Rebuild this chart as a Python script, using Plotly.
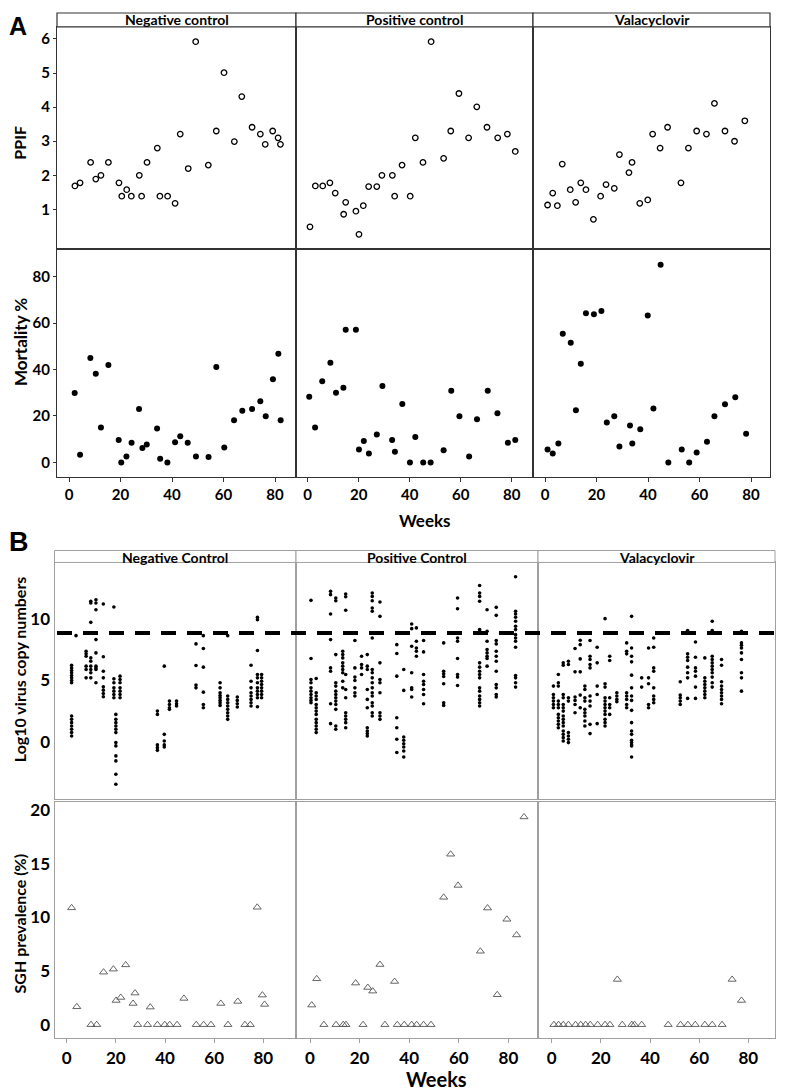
import plotly.graph_objects as go

W, H = 785, 1091
OFF = 8                      # page body margin of the browser
FW, FH = W - OFF, H - OFF    # figure size so that it fits the window

# ================= DATA =================
# Panel A - PPIF
ppif_nc_weeks = [2.3, 4.3, 8.4, 10.4, 12.4, 15.3, 19.4, 20.5, 22.4, 24.2, 27.3, 28.2, 30.3, 34.3, 35.3, 38.3,
                 41.2, 43.2, 46.3, 49.2, 54.1, 57.2, 60.2, 64.2, 67.1, 71.1, 74.3, 76.2, 79.1, 81.2, 82.1]
ppif_nc = [1.69, 1.78, 2.38, 1.89, 2.0, 2.38, 1.78, 1.39, 1.58, 1.39, 2.0, 1.39, 2.38, 2.80, 1.39, 1.39,
           1.18, 3.21, 2.20, 5.92, 2.30, 3.30, 5.01, 2.99, 4.31, 3.41, 3.21, 2.91, 3.30, 3.10, 2.91]
ppif_pc_weeks = [0.9, 3.0, 5.9, 8.7, 10.8, 14.1, 14.9, 18.9, 20.1, 21.8, 23.9, 27.1, 29.1, 33.2, 34.1, 37.0,
                 40.2, 42.2, 45.2, 48.4, 53.3, 56.1, 59.3, 63.1, 66.3, 70.3, 74.5, 78.3, 81.4]
ppif_pc = [0.49, 1.69, 1.69, 1.78, 1.48, 0.86, 1.21, 0.95, 0.27, 1.11, 1.67, 1.67, 2.0, 2.0, 1.39, 2.30,
           1.39, 3.10, 2.38, 5.92, 2.50, 3.30, 4.40, 3.10, 4.01, 3.41, 3.10, 3.21, 2.70]
ppif_val_weeks = [1.0, 3.0, 4.8, 6.7, 9.8, 11.9, 13.9, 15.9, 18.8, 21.6, 23.7, 26.9, 28.9, 32.6, 33.8, 36.8,
                  39.9, 41.8, 44.7, 47.6, 52.8, 55.7, 58.9, 62.7, 65.8, 69.9, 73.6, 77.6]
ppif_val = [1.13, 1.48, 1.11, 2.33, 1.58, 1.21, 1.78, 1.58, 0.71, 1.39, 1.73, 1.62, 2.61, 2.08, 2.38, 1.18,
            1.28, 3.21, 2.80, 3.41, 1.78, 2.80, 3.30, 3.21, 4.11, 3.30, 3.00, 3.60]

# Panel A - Mortality %
mort_nc_weeks = [2.2, 4.3, 8.3, 10.4, 12.4, 15.3, 19.3, 20.3, 22.3, 24.3, 27.2, 28.5, 30.2, 34.2, 35.4, 38.2,
                 41.2, 43.2, 46.1, 49.3, 54.2, 57.2, 60.3, 64.1, 67.3, 71.1, 74.3, 76.4, 79.2, 81.3, 82.2]
mort_nc = [29.9, 3.3, 44.9, 38.2, 15.0, 41.9, 9.7, 0, 2.6, 8.5, 23.0, 6.2, 7.7, 14.6, 1.6, 0,
           8.7, 11.3, 8.5, 2.6, 2.3, 41.1, 6.4, 18.2, 22.2, 23.0, 26.3, 19.9, 35.8, 46.8, 18.2]
mort_pc_weeks = [0.6, 2.9, 5.7, 8.9, 11.1, 14.0, 14.9, 18.9, 20.1, 22.0, 24.0, 27.1, 29.3, 33.1, 34.2, 37.1,
                 40.1, 42.2, 45.3, 48.2, 53.3, 56.3, 59.5, 63.3, 66.4, 70.6, 74.4, 78.5, 81.4]
mort_pc = [28.3, 15.0, 34.9, 42.9, 30.0, 32.1, 57.1, 57.1, 5.6, 9.2, 3.9, 12.0, 32.9, 9.7, 4.6, 25.2,
           0, 11.0, 0, 0, 5.2, 30.9, 19.9, 2.6, 18.6, 30.9, 21.2, 8.5, 9.7]
mort_val_weeks = [1.0, 3.0, 5.2, 6.9, 10.0, 12.0, 13.9, 15.9, 19.0, 21.9, 24.0, 26.9, 28.9, 33.0, 33.9, 37.0,
                  39.9, 42.1, 44.9, 47.9, 53.1, 56.0, 58.9, 62.9, 65.8, 69.9, 73.9, 78.1]
mort_val = [5.6, 3.9, 8.2, 55.4, 51.5, 22.5, 42.5, 64.2, 63.8, 65.2, 17.2, 19.9, 6.9, 15.9, 8.2, 14.3,
            63.2, 23.2, 85.1, 0, 5.6, 0, 4.3, 8.9, 19.9, 25.1, 28.1, 12.4]

# Panel B - Log10 virus copy numbers (one list of values per sampling week)
virus_nc_weeks = [2.0, 3.8, 7.9, 9.8, 11.9, 14.9, 19.2, 20.0, 21.7, 36.9, 39.7, 41.8, 44.7, 52.6, 55.6,
                  62.4, 65.5, 69.4, 75.0, 77.6, 79.3]
virus_nc = [
    [6.24, 6.02, 5.81, 5.62, 5.40, 5.21, 5.0, 4.81, 2.11, 1.84, 1.57, 1.30, 1.03, 0.76, 0.49],
    [8.64],
    [7.37, 7.16, 6.97, 6.16, 5.89, 5.21],
    [11.43, 11.29, 9.72, 6.83, 6.56, 6.16, 5.89, 5.62, 5.21],
    [11.56, 11.29, 10.75, 8.32, 7.24, 6.16, 6.02, 5.89, 4.81],
    [11.21, 6.92, 5.75, 5.21, 4.48, 4.21, 3.94, 3.67],
    [10.97, 5.13, 4.81, 4.40, 4.13, 3.86, 3.59],
    [2.24, 1.84, 1.57, 1.30, 1.03, 0.76, -0.05, -0.32, -1.13, -1.54, -2.62, -3.43],
    [5.35, 5.08, 4.81, 4.40, 4.13, 3.86, 3.59],
    [2.51, 2.24, -0.24, -0.46, -0.68],
    [6.16, 0.62, 0.08, -0.24, -0.41],
    [3.32, 3.05, 2.78, 2.65],
    [3.32, 3.11, 2.92],
    [7.97, 6.21, 4.62, 4.40],
    [8.64, 7.59, 6.08, 4.05, 3.05, 2.78],
    [4.81, 4.40, 4.0, 3.78, 3.59, 3.38, 3.19, 2.97],
    [8.64, 3.73, 3.46, 3.19, 2.92, 2.65, 2.38, 2.11, 1.84],
    [3.65, 3.38, 3.11, 2.84],
    [6.24, 4.94, 4.40, 4.0, 3.73, 3.46, 3.19, 2.92],
    [10.13, 9.94, 7.43, 5.48, 5.21, 4.81, 4.40, 4.13, 3.86, 3.59, 2.86],
    [5.48, 5.21, 4.94, 4.67, 4.40, 4.13, 3.86, 3.59],
]
virus_pc_weeks = [0.4, 2.5, 8.3, 10.4, 13.2, 14.4, 18.1, 20.8, 23.1, 25.1, 28.2, 35.0, 37.8, 41.0, 42.9,
                  45.8, 53.9, 59.5, 68.4, 71.4, 75.1, 82.9]
virus_pc = [
    [11.51, 6.78, 5.08, 4.81, 4.40, 4.13, 3.86, 3.59, 3.38, 3.19],
    [5.16, 4.0, 3.73, 3.46, 3.05, 2.78, 2.51, 2.24, 1.84, 1.57, 1.30, 1.03, 0.76],
    [12.24, 11.97, 10.40, 8.32, 6.02, 5.75, 3.11, 1.49],
    [11.70, 11.48, 7.10, 4.81, 4.54, 4.13, 3.86, 3.59, 3.32, 3.05, 2.65, 1.30, 1.03],
    [7.37, 7.10, 6.83, 6.43, 6.16, 5.89, 5.62, 4.94, 4.40],
    [12.02, 11.80, 10.70, 5.48, 4.27, 3.59, 2.38, 2.11, 1.84, 1.57, 1.16],
    [8.24, 6.02, 5.27, 5.0, 4.40, 4.0, 3.73],
    [6.97, 6.29, 6.02, 5.48],
    [7.10, 6.16, 5.89, 4.27, 3.46, 2.78, 1.16, 0.89, 0.68, 0.49],
    [12.10, 11.83, 11.48, 10.89, 10.62, 8.45, 5.89, 5.62, 5.21, 4.81, 4.40, 4.0, 3.73, 3.19, 2.92, 2.38, 2.11],
    [11.37, 10.21, 6.43, 5.08, 4.81, 4.0, 2.38, 2.11, 1.84],
    [7.91, 7.19, 5.35, 1.97, 1.16, 0.22, -0.86],
    [5.89, 4.19, 0.41, 0.14, -0.14, -0.41, -0.73, -1.22],
    [9.59, 9.21, 7.78, 5.62, 4.40, 4.27, 3.65],
    [9.27, 8.18, 7.64, 7.37, 6.97],
    [8.24, 7.32, 5.48, 4.94, 4.67, 4.27, 3.86, 3.11],
    [8.05, 5.75, 5.54, 5.32, 4.73, 3.19, 2.97],
    [11.70, 10.83, 8.45, 8.18, 6.78, 5.48, 5.27, 4.59],
    [12.72, 12.10, 11.83, 11.43, 9.13, 9.0, 6.43, 6.08, 5.75, 5.48, 5.21, 4.40, 4.13, 3.73, 3.46, 3.19, 2.92],
    [10.75, 9.0, 8.18, 7.51, 7.24, 6.97, 6.78, 6.16],
    [10.94, 10.29, 8.24, 7.97, 7.37, 6.97, 6.56, 5.75, 4.67, 4.40, 3.86, 3.65],
    [13.43, 10.62, 10.40, 10.13, 9.81, 9.40, 9.13, 8.72, 8.45, 8.18, 7.70, 5.40, 5.21, 4.81, 4.46],
]
virus_val_weeks = [0.7, 2.7, 4.7, 6.8, 9.5, 11.6, 13.5, 15.6, 18.5, 21.7, 23.6, 26.5, 30.5, 32.5, 36.6,
                   39.4, 41.5, 52.3, 55.3, 58.5, 62.3, 65.3, 69.1, 77.2]
virus_val = [
    [4.54, 3.86, 3.59, 3.32, 3.05, 2.78],
    [5.48, 4.81, 4.54, 3.32, 3.05, 2.78, 2.24, 1.97, 1.70, 1.43, 1.16],
    [6.43, 6.24, 3.86, 3.59, 3.05, 2.78, 2.51, 2.11, 1.84, 1.57, 1.30, 0.89, 0.62, 0.35, 0.08],
    [6.56, 6.29, 3.59, 3.32, 0.76, 0.49, 0.22, -0.05],
    [7.59, 5.70, 3.65, 3.38, 3.05, 2.38],
    [8.27, 7.91, 6.75, 5.70, 3.81, 2.78],
    [4.54, 4.27, 3.59, 3.32, 2.65, 2.38, 2.11, 1.70, 1.30],
    [8.24, 6.97, 6.70, 6.29, 6.02, 3.73, 3.32, 2.92, 1.43, 0.68],
    [7.70, 6.43, 4.54, 3.86, 1.49],
    [10.02, 4.73, 4.46, 3.59, 3.32, 3.05, 2.78, 2.51, 2.24, 1.84, 1.57, 1.30],
    [6.97, 6.62, 3.59, 3.05, 2.78, 2.24],
    [4.0, 3.73, 3.46, 3.27],
    [8.05, 7.37, 7.16, 4.0, 3.73, 3.46, 3.05, 2.78],
    [10.21, 7.64, 6.97, 6.51, 5.43, 4.40, 3.73, 3.38, 2.57, 1.57, 0.89, 0.62, 0.14, -0.05, -0.24, -0.32, -1.22],
    [5.21, 4.46],
    [7.64, 5.21, 4.73, 3.05, 2.78],
    [8.45, 7.70, 6.02, 5.75, 4.40, 3.73, 3.46, 3.19],
    [4.89, 3.81, 3.59, 3.32, 3.05],
    [9.05, 7.16, 6.89, 6.62, 6.08, 5.62, 5.21, 3.54],
    [8.13, 6.89, 6.02, 5.75, 5.35, 4.46, 3.54],
    [6.83, 5.21, 4.94, 4.67, 4.40, 4.13, 3.86, 3.59],
    [9.81, 9.05, 6.97, 6.70, 6.43, 6.16, 5.89, 5.62, 5.27, 4.81, 4.46],
    [6.70, 6.24, 4.89, 4.54, 4.27, 4.0, 3.73, 3.46, 3.11],
    [9.0, 8.05, 7.86, 7.64, 7.24, 6.70, 5.62, 5.21, 4.13],
]
VIRUS_THRESHOLD = 8.86

# Panel B - SGH prevalence (%)
sgh_nc_weeks = [2.0, 4.1, 9.9, 12.2, 15.0, 19.0, 20.1, 22.0, 24.0, 27.0, 27.8, 28.9, 32.9, 34.0, 36.9,
                39.9, 41.9, 44.9, 47.7, 52.7, 55.7, 58.7, 62.7, 65.6, 69.6, 72.5, 74.7, 77.5, 79.6, 80.5]
sgh_nc = [10.9, 1.67, 0, 0, 4.9, 5.18, 2.26, 2.54, 5.58, 1.98, 2.95, 0, 0, 1.64, 0,
          0, 0, 0, 2.45, 0, 0, 0, 1.98, 0, 2.17, 0, 0, 10.95, 2.76, 1.89]
sgh_pc_weeks = [0.7, 2.7, 5.6, 10.5, 13.4, 14.5, 18.4, 21.4, 23.3, 25.3, 28.2, 30.2, 34.1, 35.2, 38.0,
                41.0, 43.0, 45.8, 48.8, 53.9, 56.7, 59.7, 68.7, 71.6, 75.5, 79.4, 83.3, 86.3]
sgh_pc = [1.83, 4.28, 0, 0, 0, 0, 3.88, 0, 3.47, 3.13, 5.61, 0, 4.03, 0, 0,
          0, 0, 0, 0, 11.88, 15.9, 12.99, 6.85, 10.88, 2.79, 9.83, 8.37, 19.38]
sgh_val_weeks = [0.9, 2.8, 4.7, 6.8, 9.7, 11.8, 13.8, 15.7, 18.7, 21.7, 23.7, 26.7, 28.7, 32.6, 33.7,
                 36.6, 47.4, 52.4, 55.4, 58.4, 62.3, 65.3, 69.3, 73.4, 77.2]
sgh_val = [0, 0, 0, 0, 0, 0, 0, 0, 0, 0, 0, 4.22, 0, 0, 0,
           0, 0, 0, 0, 0, 0, 0, 0, 4.22, 2.26]

strip_a = ["Negative control", "Positive control", "Valacyclovir"]
strip_b = ["Negative Control", "Positive Control", "Valacyclovir"]
week_ticks = [0, 20, 40, 60, 80]
ppif_ticks = [1, 2, 3, 4, 5, 6]
mort_ticks = [0, 20, 40, 60, 80]
virus_ticks = [0, 5, 10]
sgh_ticks = [0, 5, 10, 15, 20]


def expand(weeks, groups):
    xs, ys = [], []
    for w, g in zip(weeks, groups):
        xs += [w] * len(g)
        ys += g
    return xs, ys


# ================= LAYOUT GEOMETRY (window pixels) =================
def xp(p):
    return (p - OFF) / FW


def yp(p):
    return 1 - (p - OFF) / FH


# (left, right, px of week 0, px per week)
A_COLS = [(57, 296, 69.0, 2.575), (296, 533, 307.7, 2.55), (533, 770, 545.0, 2.575)]
B_COLS = [(54.5, 296, 66.7, 2.458), (296, 538, 310.0, 2.48), (538, 775, 551.7, 2.458)]
# (top, bottom, reference value, px of reference, px per unit)
ROWS = {
    'ppif': (24, 247, 6, 36, 34.2),
    'mort': (247, 475, 0, 460.7, 2.33),
    'virus': (561, 798, 0, 741, 12.34),
    'sgh': (801, 1038, 0, 1024.5, 10.75),
}

FONT = "Lato, 'Open Sans', sans-serif"
fig = go.Figure()
layout = {}
counter = [0]


def bold(vals):
    return [f"<b>{v}</b>" for v in vals]


def add_row(row, cols, datasets, marker, lc, lw, xticks, yticks, tfs, tick_len_y):
    top, bot, rv, rp, s = ROWS[row]
    for i, ((l, r, x0, sx), (xs, ys)) in enumerate(zip(cols, datasets)):
        counter[0] += 1
        n = counter[0]
        xa = 'xaxis' if n == 1 else f'xaxis{n}'
        ya = 'yaxis' if n == 1 else f'yaxis{n}'
        xr = 'x' if n == 1 else f'x{n}'
        yr = 'y' if n == 1 else f'y{n}'
        layout[xa] = dict(
            domain=[xp(l), xp(r)], range=[(l - x0) / sx, (r - x0) / sx], anchor=yr,
            showline=True, mirror=True, linecolor=lc, linewidth=lw,
            showgrid=False, zeroline=False,
            ticks='outside' if xticks else '', ticklen=4, tickcolor=lc, tickwidth=1,
            tickvals=xticks if xticks else [], ticktext=bold(xticks) if xticks else [],
            showticklabels=bool(xticks),
            tickfont=dict(family=FONT, size=tfs, color='black'),
        )
        show_y = yticks is not None and i == 0
        layout[ya] = dict(
            domain=[yp(bot), yp(top)],
            range=[rv - (bot - rp) / s, rv + (rp - top) / s], anchor=xr,
            showline=True, mirror=True, linecolor=lc, linewidth=lw,
            showgrid=False, zeroline=False,
            ticks='outside' if (show_y and tick_len_y) else '', ticklen=tick_len_y or 0,
            tickcolor=lc, tickwidth=1,
            tickvals=yticks if show_y else [], ticktext=bold(yticks) if show_y else [],
            showticklabels=show_y,
            tickfont=dict(family=FONT, size=tfs, color='black'),
        )
        fig.add_trace(go.Scatter(x=xs, y=ys, mode='markers', marker=marker,
                                 xaxis=xr, yaxis=yr, hoverinfo='skip'))


A_LC = '#333333'
B_LC = '#a0a0a0'

add_row('ppif', A_COLS,
        [(ppif_nc_weeks, ppif_nc), (ppif_pc_weeks, ppif_pc), (ppif_val_weeks, ppif_val)],
        dict(symbol='circle-open', size=5.5, color='black', line=dict(width=1.3, color='black')),
        A_LC, 1, None, ppif_ticks, 15, 3)
add_row('mort', A_COLS,
        [(mort_nc_weeks, mort_nc), (mort_pc_weeks, mort_pc), (mort_val_weeks, mort_val)],
        dict(symbol='circle', size=6, color='black'),
        A_LC, 1, week_ticks, mort_ticks, 15, 3)
add_row('virus', B_COLS,
        [expand(virus_nc_weeks, virus_nc), expand(virus_pc_weeks, virus_pc),
         expand(virus_val_weeks, virus_val)],
        dict(symbol='circle', size=3.6, color='black'),
        B_LC, 1, None, virus_ticks, 17, 0)
add_row('sgh', B_COLS,
        [(sgh_nc_weeks, sgh_nc), (sgh_pc_weeks, sgh_pc), (sgh_val_weeks, sgh_val)],
        dict(symbol='triangle-up-open', size=7, color='#555555', line=dict(width=0.9, color='#555555')),
        B_LC, 1, week_ticks, sgh_ticks, 17, 0)

shapes = []
annotations = []
# strips
for (l, r, _, _), lab in zip(A_COLS, strip_a):
    shapes.append(dict(type='rect', xref='paper', yref='paper', x0=xp(l), x1=xp(r), y0=yp(24), y1=yp(10),
                       line=dict(color=A_LC, width=1.2), fillcolor='white'))
    annotations.append(dict(text=f"<b>{lab}</b>", x=xp((l + r) / 2), y=yp(17), xref='paper', yref='paper',
                            showarrow=False, xanchor='center', yanchor='middle',
                            font=dict(family=FONT, size=14, color='black')))
for (l, r, _, _), lab in zip(B_COLS, strip_b):
    shapes.append(dict(type='rect', xref='paper', yref='paper', x0=xp(l), x1=xp(r), y0=yp(561), y1=yp(549),
                       line=dict(color=B_LC, width=1), fillcolor='white'))
    annotations.append(dict(text=f"<b>{lab}</b>", x=xp((l + r) / 2), y=yp(556), xref='paper', yref='paper',
                            showarrow=False, xanchor='center', yanchor='middle',
                            font=dict(family=FONT, size=14, color='black')))

# threshold dashed line across virus panels
shapes.append(dict(type='line', xref='paper', yref='y7', x0=xp(57), x1=xp(775),
                   y0=VIRUS_THRESHOLD, y1=VIRUS_THRESHOLD,
                   line=dict(color='black', width=4, dash='15px,11px')))


def label(text, x, y, size, angle=0, family=FONT, xanchor='center', yanchor='middle'):
    annotations.append(dict(text=f"<b>{text}</b>", x=xp(x), y=yp(y), xref='paper', yref='paper',
                            showarrow=False, xanchor=xanchor, yanchor=yanchor, textangle=angle,
                            borderpad=0,
                            font=dict(family=family, size=size, color='black')))


label("A", 8, 8, 25, family="'Liberation Sans', Arial, sans-serif", xanchor='left', yanchor='top')
label("B", 8, 540, 27, family="'Liberation Sans', Arial, sans-serif", xanchor='left')
label("PPIF", 20, 140, 16, -90)
label("Mortality %", 20, 340, 17, -90)
label("Weeks", 425, 519, 17)
label("Log10 virus copy numbers", 19, 668, 16, -90)
label("SGH prevalence (%)", 19, 923, 16, -90)
label("Weeks", 436, 1079, 20)

fig.update_layout(
    width=FW, height=FH, margin=dict(l=0, r=0, t=0, b=0),
    paper_bgcolor='white', plot_bgcolor='white', showlegend=False,
    shapes=shapes, annotations=annotations, **layout,
)

fig.write_html("out.html")
